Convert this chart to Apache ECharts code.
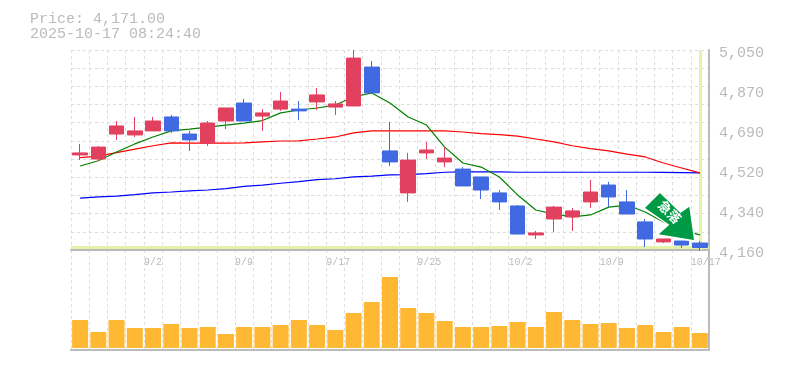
<!DOCTYPE html>
<html><head><meta charset="utf-8">
<style>html,body{margin:0;padding:0;background:#fff}#c{width:785px;height:370px}</style>
<script src="https://cdn.jsdelivr.net/npm/echarts@6/dist/echarts.min.js"></script>
</head><body><div id="c"></div>
<script>
const categories=['8/27','8/28','8/29','9/1','9/2','9/3','9/4','9/5','9/8','9/9','9/10','9/11','9/12','9/16','9/17','9/18','9/19','9/22','9/24','9/25','9/26','9/29','9/30','10/1','10/2','10/3','10/6','10/7','10/8','10/9','10/10','10/14','10/15','10/16','10/17'];
// open, close, low, high
const candles=[
[4583,4592,4560,4632],[4565,4618,4556,4623],[4676,4712,4650,4734],[4672,4690,4663,4752],[4690,4734,4690,4752],
[4752,4690,4681,4761],[4676,4650,4601,4690],[4636,4725,4623,4734],[4734,4792,4698,4792],[4814,4734,4734,4832],
[4756,4770,4690,4787],[4787,4823,4779,4863],[4787,4779,4738,4823],[4819,4850,4783,4881],[4796,4810,4761,4823],
[4801,5014,4801,5050],[4974,4859,4859,5001],[4601,4552,4534,4730],[4414,4560,4374,4592],[4592,4605,4565,4641],
[4552,4569,4529,4618],[4520,4445,4445,4529],[4485,4427,4387,4485],[4414,4374,4338,4427],[4356,4231,4231,4360],
[4227,4236,4209,4245],[4298,4351,4240,4356],[4307,4334,4245,4347],[4374,4418,4347,4472],[4449,4396,4351,4463],
[4374,4320,4320,4427],[4285,4209,4173,4298],[4196,4209,4191,4209],[4200,4182,4169,4200],[4191,4171,4156,4200]];
const maShort=[4534,4557,4596,4632,4663,4690,4698,4707,4716,4725,4736,4770,4783,4792,4805,4841,4859,4814,4752,4716,4618,4547,4529,4485,4405,4338,4320,4307,4316,4351,4360,4329,4285,4249,4227];
const maMid=[4571,4578,4593,4609,4624,4637,4636,4636,4636,4637,4641,4645,4646,4654,4663,4681,4690,4690,4690,4690,4690,4685,4678,4673,4667,4654,4641,4624,4611,4601,4587,4574,4547,4525,4503];
const maLong=[4391,4396,4400,4406,4414,4418,4423,4427,4433,4443,4449,4457,4464,4473,4477,4485,4489,4494,4495,4500,4506,4508,4508,4508,4506,4506,4506,4506,4506,4506,4506,4506,4505,4504,4503];
const volumes=[28,16,28,20,20,24,20,21,14,21,21,23,28,23,18,35,46,71,40,35,27,21,21,22,26,21,36,28,24,25,20,23,16,21,15];
const priceTicks=['4,160','4,340','4,520','4,690','4,870','5,050'];
const dateTickIdx=[4,9,14,19,24,29,34];
const lastPrice=4171, priceText='Price: 4,171.00', stamp='2025-10-17 08:24:40', signal='急落';

const GREY='#bbbbbb', GRID='#dddddd', LIME='#e3f3a8', RED='#e2405f', BLUE='#4169e1', MONO='"Liberation Mono",monospace';
const last=categories[categories.length-1];
const dash={color:GRID,type:[3,3],width:1};
const arrowPath='path://M16 0L36.7 20L46 13.3L51 49L13.3 42.7L24.3 32.7L0 16Z';
const chart=echarts.init(document.getElementById('c'),null,{renderer:'canvas'});
chart.setOption({
 animation:false,backgroundColor:'#fff',
 title:{text:priceText+'\n'+stamp,left:25,top:7,textStyle:{fontFamily:MONO,fontSize:15,fontWeight:'normal',color:GREY,lineHeight:15}},
 grid:[{left:71,top:50,width:638,height:200},{left:71,top:250,width:638,height:100}],
 xAxis:[
  {type:'category',gridIndex:0,data:categories,boundaryGap:true,axisLine:{show:true,onZero:false,lineStyle:{color:GREY,width:2}},axisTick:{show:false},axisLabel:{show:false},splitLine:{show:true,interval:0,lineStyle:dash}},
  {type:'category',gridIndex:1,data:categories,boundaryGap:true,axisLine:{show:true,onZero:false,lineStyle:{color:GREY,width:2}},axisTick:{show:false},axisLabel:{show:false},splitLine:{show:true,interval:0,lineStyle:dash}},
  {type:'value',gridIndex:1,position:'top',min:0,max:categories.length,axisLine:{show:false,onZero:false},axisTick:{show:false},splitLine:{show:false},
   axisLabel:{inside:true,margin:7,align:'left',verticalAlign:'top',color:GREY,fontFamily:MONO,fontSize:10,hideOverlap:false,showMinLabel:true,showMaxLabel:true,customValues:dateTickIdx,formatter:v=>categories[v]}}
 ],
 yAxis:[
  {type:'value',gridIndex:0,show:false,min:4160,max:5050,scale:true,splitLine:{show:false}},
  {type:'value',gridIndex:0,position:'right',min:0,max:5,interval:1,axisLine:{show:true,onZero:false,lineStyle:{color:GREY,width:2}},axisTick:{show:false},splitLine:{show:false},
   axisLabel:{margin:10,color:GREY,fontFamily:MONO,fontSize:15,verticalAlign:'top',lineHeight:6,formatter:(v)=>priceTicks[v]}},
  {type:'value',gridIndex:0,position:'left',min:0,max:11,interval:1,axisLine:{show:false,onZero:false},axisTick:{show:false},axisLabel:{show:false},splitLine:{show:true,lineStyle:dash}},
  {type:'value',gridIndex:1,position:'right',min:-2,max:98,axisLine:{show:true,onZero:false,lineStyle:{color:GREY,width:2}},axisTick:{show:false},axisLabel:{show:false},splitLine:{show:false}}
 ],
 series:[
  {type:'line',name:'long',xAxisIndex:0,yAxisIndex:0,data:maLong,symbol:'none',z:3,lineStyle:{color:'#0000ff',width:1.2},
   markLine:{silent:true,symbol:'none',label:{show:false},z:2,lineStyle:{color:LIME,width:3,type:'solid'},data:[{xAxis:last},{yAxis:lastPrice}]}},
  {type:'line',name:'mid',xAxisIndex:0,yAxisIndex:0,data:maMid,symbol:'none',z:3,lineStyle:{color:'#ff0000',width:1.2}},
  {type:'line',name:'short',xAxisIndex:0,yAxisIndex:0,data:maShort,symbol:'none',z:3,lineStyle:{color:'#008000',width:1.2}},
  {type:'candlestick',xAxisIndex:0,yAxisIndex:0,data:candles,barWidth:15,clip:false,z:4,
   itemStyle:{color:RED,color0:BLUE,borderColor:RED,borderColor0:BLUE,borderWidth:1,borderColorDoji:RED},
   markPoint:{silent:true,z:6,animation:false,data:[
    {coord:[last,lastPrice],symbol:arrowPath,symbolSize:[51,49],symbolOffset:[-30.5,-31],symbolKeepAspect:false,itemStyle:{color:'#009944',borderColor:'#fff',borderWidth:1.5},
     label:{show:true,position:'inside',offset:[-3,-3.5],rotate:-45,formatter:signal,color:'#fff',fontSize:13,fontWeight:'bold',fontFamily:'"Noto Sans CJK JP"'}}
   ]}},
  {type:'bar',xAxisIndex:1,yAxisIndex:3,data:volumes,barWidth:16,itemStyle:{color:'#ffb833'},z:3}
 ]
});
</script></body></html>
